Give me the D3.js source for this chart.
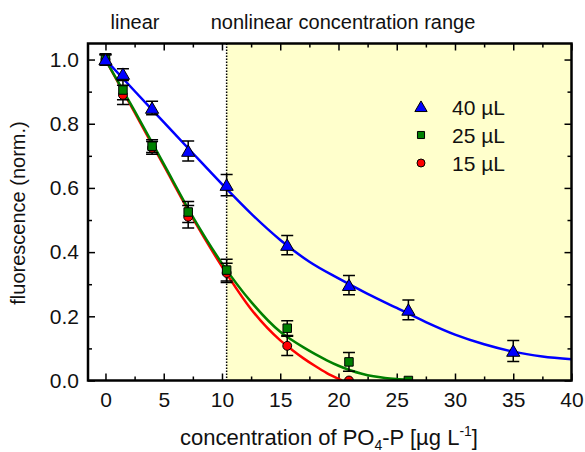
<!DOCTYPE html>
<html>
<head>
<meta charset="utf-8">
<script src="https://cdn.jsdelivr.net/npm/d3@7"></script>
<style>
body { margin: 0; background: #fff; }
text { font-family: "Liberation Sans", Arial, sans-serif; fill: #111; }
</style>
</head>
<body>
<div class="content"></div>
<script>
const w = 585;
const h = 452;

// measured points
const conc = [0, 1.5, 4, 7.1, 10.4, 15.6, 20.9, 26, 35];
const f40 = [1.0, 0.955, 0.849, 0.715, 0.609, 0.422, 0.297, 0.22, 0.092];
const e40 = [0.018, 0.016, 0.021, 0.031, 0.033, 0.03, 0.03, 0.031, 0.033];
const f25 = [1.0, 0.905, 0.73, 0.525, 0.344, 0.163, 0.058, 0.0];
const e25 = [0.015, 0.03, 0.02, 0.033, 0.034, 0.023, 0.029, 0.005];
const f15 = [1.0, 0.89, 0.725, 0.51, 0.335, 0.108, 0.0];
const e15 = [0.015, 0.03, 0.02, 0.035, 0.03, 0.03, 0.0];

// fitted curves
const fitX40 = [0, 2.5, 5, 7.5, 10, 12.5, 15, 17.5, 20, 22.5, 25, 27.5, 30, 32.5, 35, 37.5, 40];
const fit40 = [1.0, 0.902, 0.805, 0.708, 0.612, 0.52, 0.438, 0.37, 0.318, 0.27, 0.226, 0.182, 0.143, 0.113, 0.09, 0.075, 0.066];
const fitX25 = [0, 2.5, 5, 7.5, 10, 12.5, 15, 16, 17, 18, 19, 20, 21, 22, 23, 24, 25, 26];
const fit25 = [1.0, 0.84, 0.675, 0.51, 0.365, 0.245, 0.152, 0.126, 0.103, 0.082, 0.063, 0.046, 0.032, 0.021, 0.013, 0.008, 0.005, 0.003];
const fitX15 = [0, 2.5, 5, 7.5, 10, 12.5, 15, 16, 17, 18, 19, 20, 20.3];
const fit15 = [1.0, 0.835, 0.67, 0.505, 0.355, 0.222, 0.125, 0.096, 0.069, 0.045, 0.023, 0.005, 0.0];

const split = 10.4;
const legendLabels = ['40 µL', '25 µL', '15 µL'];

const mLeft = 88, mRight = 571.5, mTop = 43.5, mBottom = 380.5;

const x = d3.scaleLinear().domain([-1.5, 40]).range([mLeft, mRight]);
const y = d3.scaleLinear().domain([0, 1.05]).range([mBottom, mTop]);

const svg = d3.select('.content').append('svg')
	.attr('width', w)
	.attr('height', h);

svg.append('defs').append('clipPath')
	.attr('id', 'clip')
	.append('rect')
	.attr('x', mLeft).attr('y', mTop)
	.attr('width', mRight - mLeft).attr('height', mBottom - mTop);

// nonlinear range background
svg.append('rect')
	.attr('x', x(split))
	.attr('y', mTop)
	.attr('width', mRight - x(split))
	.attr('height', mBottom - mTop)
	.attr('fill', '#ffffcc');

svg.append('line')
	.attr('x1', x(split)).attr('x2', x(split))
	.attr('y1', mTop).attr('y2', mBottom)
	.attr('stroke', '#000')
	.attr('stroke-width', 1.5)
	.attr('stroke-dasharray', '1.5,1.5');

// axes with inward ticks on all four sides
const xMajor = d3.range(0, 41, 5);
const xMinor = d3.range(2.5, 40, 5);
const yMajor = d3.range(0, 1.01, 0.2);
const yMinor = d3.range(0.1, 1.05, 0.2);

svg.append('g')
	.attr('transform', 'translate(0,' + mBottom + ')')
	.call(d3.axisBottom(x).tickValues(xMajor).tickSize(-7).tickPadding(12).tickFormat(d3.format('d')))
	.call(g => g.select('.domain').remove());
svg.append('g')
	.attr('transform', 'translate(0,' + mBottom + ')')
	.call(d3.axisBottom(x).tickValues(xMinor).tickSize(-4).tickFormat(''))
	.call(g => g.select('.domain').remove());
svg.append('g')
	.attr('transform', 'translate(0,' + mTop + ')')
	.call(d3.axisTop(x).tickValues(xMajor).tickSize(-7).tickFormat(''))
	.call(g => g.select('.domain').remove());
svg.append('g')
	.attr('transform', 'translate(0,' + mTop + ')')
	.call(d3.axisTop(x).tickValues(xMinor).tickSize(-4).tickFormat(''))
	.call(g => g.select('.domain').remove());
svg.append('g')
	.attr('transform', 'translate(' + mLeft + ',0)')
	.call(d3.axisLeft(y).tickValues(yMajor).tickSize(-7).tickPadding(9).tickFormat(d3.format('.1f')))
	.call(g => g.select('.domain').remove());
svg.append('g')
	.attr('transform', 'translate(' + mLeft + ',0)')
	.call(d3.axisLeft(y).tickValues(yMinor).tickSize(-4).tickFormat(''))
	.call(g => g.select('.domain').remove());
svg.append('g')
	.attr('transform', 'translate(' + mRight + ',0)')
	.call(d3.axisRight(y).tickValues(yMajor).tickSize(-7).tickFormat(''))
	.call(g => g.select('.domain').remove());
svg.append('g')
	.attr('transform', 'translate(' + mRight + ',0)')
	.call(d3.axisRight(y).tickValues(yMinor).tickSize(-4).tickFormat(''))
	.call(g => g.select('.domain').remove());

svg.selectAll('.tick line').attr('stroke', '#000').attr('stroke-width', 1.5);
svg.selectAll('.tick text')
	.style('font-family', '"Liberation Sans", Arial, sans-serif')
	.style('font-size', '21px')
	.attr('fill', '#111');

// fitted curves
const line = d3.line()
	.x(d => x(d[0]))
	.y(d => y(d[1]))
	.curve(d3.curveMonotoneX);

const plot = svg.append('g').attr('clip-path', 'url(#clip)');

const curves = [
	{ xs: fitX15, ys: fit15, color: '#ff0000' },
	{ xs: fitX25, ys: fit25, color: '#008000' },
	{ xs: fitX40, ys: fit40, color: '#0000ff' }
];

curves.forEach(c => {
	plot.append('path')
		.datum(d3.zip(c.xs, c.ys))
		.attr('d', line)
		.attr('fill', 'none')
		.attr('stroke', c.color)
		.attr('stroke-width', 2.5);
});

// error bars and markers
const series = [
	{ ys: f15, es: e15, color: '#ff0000', sym: d3.symbolCircle, size: 62 },
	{ ys: f25, es: e25, color: '#008000', sym: d3.symbolSquare, size: 72 },
	{ ys: f40, es: e40, color: '#0000ff', sym: d3.symbolTriangle, size: 75 }
];

series.forEach(s => {
	const pts = s.ys.map((v, i) => ({ x: conc[i], y: v, e: s.es[i] }));
	const eb = plot.append('g')
		.attr('stroke', '#000')
		.attr('stroke-width', 1.5);
	pts.forEach(p => {
		if (p.e <= 0.005) return;
		eb.append('line')
			.attr('x1', x(p.x)).attr('x2', x(p.x))
			.attr('y1', y(p.y - p.e)).attr('y2', y(p.y + p.e));
		[p.y - p.e, p.y + p.e].forEach(v => {
			eb.append('line')
				.attr('x1', x(p.x) - 6).attr('x2', x(p.x) + 6)
				.attr('y1', y(v)).attr('y2', y(v));
		});
	});
});

series.forEach(s => {
	const pts = s.ys.map((v, i) => ({ x: conc[i], y: v }));
	plot.append('g').selectAll('path')
		.data(pts)
		.enter()
		.append('path')
		.attr('transform', d => 'translate(' + x(d.x) + ',' + (y(d.y) + (s.sym === d3.symbolTriangle ? 1.5 : 0)) + ')')
		.attr('d', d3.symbol().type(s.sym).size(s.size))
		.attr('fill', s.color)
		.attr('stroke', '#000')
		.attr('stroke-width', 1);
});

// frame
svg.append('rect')
	.attr('x', mLeft).attr('y', mTop)
	.attr('width', mRight - mLeft).attr('height', mBottom - mTop)
	.attr('fill', 'none')
	.attr('stroke', '#000')
	.attr('stroke-width', 2.5);

// legend
const legend = svg.append('g').attr('id', 'legend');
series.slice().reverse().forEach((s, i) => {
	const ly = 107 + i * 28;
	legend.append('path')
		.attr('transform', 'translate(421,' + (ly + (s.sym === d3.symbolTriangle ? 1 : 0)) + ')')
		.attr('d', d3.symbol().type(s.sym).size(s.sym === d3.symbolTriangle ? 65 : 50))
		.attr('fill', s.color)
		.attr('stroke', '#000')
		.attr('stroke-width', 1);
	legend.append('text')
		.attr('x', 452)
		.attr('y', ly + 7.5)
		.style('font-size', '21px')
		.text(legendLabels[i]);
});

// range labels
svg.append('text')
	.attr('x', 135).attr('y', 29)
	.attr('text-anchor', 'middle')
	.style('font-size', '20px')
	.text('linear');
svg.append('text')
	.attr('x', 343).attr('y', 29)
	.attr('text-anchor', 'middle')
	.style('font-size', '20px')
	.text('nonlinear concentration range');

// axis titles
svg.append('text')
	.attr('transform', 'translate(25,' + 213 + ') rotate(-90)')
	.attr('text-anchor', 'middle')
	.style('font-size', '20px')
	.text('fluorescence (norm.)');

const xt = svg.append('text')
	.attr('x', 329).attr('y', 445)
	.attr('text-anchor', 'middle')
	.style('font-size', '22px');
xt.append('tspan').text('concentration of PO');
xt.append('tspan').attr('dy', 5).style('font-size', '14px').text('4');
xt.append('tspan').attr('dy', -5).text('-P [µg L');
xt.append('tspan').attr('dy', -9).style('font-size', '14px').text('-1');
xt.append('tspan').attr('dy', 9).text(']');
</script>
</body>
</html>
